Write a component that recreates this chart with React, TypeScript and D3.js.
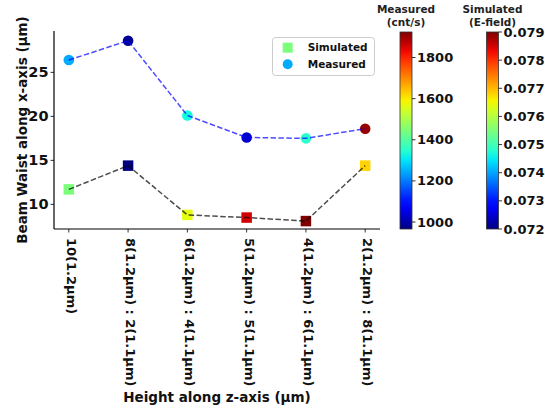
import React from 'react';
import * as d3 from 'd3';

// data
const categories = [
  '10(1.2μm)',
  '8(1.2μm) : 2(1.1μm)',
  '6(1.2μm) : 4(1.1μm)',
  '5(1.2μm) : 5(1.1μm)',
  '4(1.2μm) : 6(1.1μm)',
  '2(1.2μm) : 8(1.1μm)'
];
const measuredWaist = [26.4, 28.6, 20.1, 17.6, 17.5, 18.6];
const simulatedWaist = [11.7, 14.4, 8.8, 8.5, 8.1, 14.4];
const measuredCounts = [1245, 985, 1325, 1030, 1350, 1905];
const simulatedField = [0.0755, 0.072, 0.0764, 0.0785, 0.079, 0.0768];
const yTicks = [10, 15, 20, 25];
const measuredTicks = [1000, 1200, 1400, 1600, 1800];
const simulatedTicks = [0.072, 0.073, 0.074, 0.075, 0.076, 0.077, 0.078, 0.079];

const FONT = '"DejaVu Sans", sans-serif';

// matplotlib "jet"
const jetR = d3.scaleLinear([0, 0.35, 0.66, 0.89, 1], [0, 0, 1, 1, 0.5]).clamp(true);
const jetG = d3.scaleLinear([0, 0.125, 0.375, 0.64, 0.91, 1], [0, 0, 1, 1, 0, 0]).clamp(true);
const jetB = d3.scaleLinear([0, 0.11, 0.34, 0.65, 1], [0.5, 1, 1, 0, 0]).clamp(true);
const jet = (t: number) => d3.rgb(jetR(t) * 255, jetG(t) * 255, jetB(t) * 255).formatHex();

const Colorbar = ({ id, x, title, domain, ticks, fmt }: any) => {
  const y = d3.scaleLinear(domain, [229, 32]);
  const stops = d3.range(0, 1.0001, 0.05);
  return (
    <g>
      <defs>
        <linearGradient id={id} x1="0" y1="1" x2="0" y2="0">
          {stops.map((t, i) => (
            <stop key={i} offset={t} stopColor={jet(t)} />
          ))}
        </linearGradient>
      </defs>
      <text x={x + 6} y={12.5} textAnchor="middle" fontSize={10.5} fontWeight="bold" fill="#222">{title[0]}</text>
      <text x={x + 6} y={26} textAnchor="middle" fontSize={10.5} fontWeight="bold" fill="#222">{title[1]}</text>
      <rect x={x} y={32} width={12} height={197} fill={`url(#${id})`} stroke="#333" strokeWidth={0.8} />
      {ticks.map((t: number) => (
        <g key={t} transform={`translate(${x + 12},${y(t)})`}>
          <line x1={0} x2={3.5} stroke="#000" strokeWidth={0.8} />
          <text x={5} dy="0.35em" fontSize={13} fontWeight="bold" fill="#111">{fmt(t)}</text>
        </g>
      ))}
    </g>
  );
};

const App = () => {
  const left = 54, right = 380, top = 31, bottom = 229;
  const x = d3.scaleLinear([-0.25, categories.length - 0.75], [left, right]);
  const y = d3.scaleLinear([7.2, 29.7], [bottom, top]);
  const mColor = d3.scaleLinear([966, 1924], [0, 1]);
  const sColor = d3.scaleLinear([0.072, 0.079], [0, 1]);

  const line = d3.line<number>().x((_, i) => x(i)).y(d => y(d));
  const sq = 10.5;

  return (
    <svg width={545} height={413} style={{ position: 'absolute', left: 0, top: 0 }} fontFamily={FONT}>
      <rect width={545} height={413} fill="#fff" />

      {/* markers under the dashed lines */}
      {simulatedWaist.map((v, i) => (
        <rect key={'s' + i} x={x(i) - sq / 2} y={y(v) - sq / 2} width={sq} height={sq}
              fill={jet(sColor(simulatedField[i]))} />
      ))}
      {measuredWaist.map((v, i) => (
        <circle key={'m' + i} cx={x(i)} cy={y(v)} r={5.3} fill={jet(mColor(measuredCounts[i]))} />
      ))}
      <path d={line(simulatedWaist) || ''} fill="none" stroke="#000" strokeOpacity={0.7}
            strokeWidth={1.5} strokeDasharray="5.5,2.4" />
      <path d={line(measuredWaist) || ''} fill="none" stroke="#0000ff" strokeOpacity={0.7}
            strokeWidth={1.5} strokeDasharray="5.5,2.4" />

      {/* axes */}
      <line x1={left} x2={left} y1={top} y2={bottom} stroke="#000" strokeWidth={1.2} />
      <line x1={left} x2={right} y1={bottom} y2={bottom} stroke="#000" strokeWidth={1.2} />
      {yTicks.map(t => (
        <g key={t} transform={`translate(${left},${y(t)})`}>
          <line x1={-3.5} x2={0} stroke="#000" strokeWidth={0.8} />
          <text x={-5.5} dy="0.35em" textAnchor="end" fontSize={14.5} fontWeight="bold" fill="#111">{t}</text>
        </g>
      ))}
      {categories.map((c, i) => (
        <g key={c} transform={`translate(${x(i)},${bottom})`}>
          <line y1={0} y2={3.5} stroke="#000" strokeWidth={0.8} />
          <text transform="translate(0,9) rotate(90)" dy="0.15em" fontSize={13} fontWeight="bold" fill="#111">{c}</text>
        </g>
      ))}
      <text transform={`translate(27,${(top + bottom) / 2}) rotate(-90)`} textAnchor="middle"
            fontSize={13.5} fontWeight="bold" fill="#111">Beam Waist along x-axis (μm)</text>
      <text x={(left + right) / 2} y={402} textAnchor="middle" fontSize={13.5} fontWeight="bold" fill="#111">
        Height along z-axis (μm)
      </text>

      {/* legend */}
      <g>
        <rect x={272.5} y={37.5} width={102} height={38} rx={3} fill="#fff" fillOpacity={0.8} stroke="#ccc" strokeWidth={1} />
        <rect x={287.7 - 5} y={47.7 - 5} width={10} height={10} fill={jet(sColor(simulatedField[0]))} />
        <circle cx={287.7} cy={64.3} r={5} fill={jet(mColor(measuredCounts[0]))} />
        <text x={307.7} y={47.7} dy="0.35em" fontSize={10.5} fontWeight="bold" fill="#111">Simulated</text>
        <text x={307.7} y={64.3} dy="0.35em" fontSize={10.5} fontWeight="bold" fill="#111">Measured</text>
      </g>

      <Colorbar id="cbm" x={400} title={['Measured', '(cnt/s)']} domain={[966, 1924]}
                ticks={measuredTicks} fmt={(t: number) => String(t)} />
      <Colorbar id="cbs" x={486.5} title={['Simulated', '(E-field)']} domain={[0.072, 0.079]}
                ticks={simulatedTicks} fmt={d3.format('.3f')} />
    </svg>
  );
};

export default App;
